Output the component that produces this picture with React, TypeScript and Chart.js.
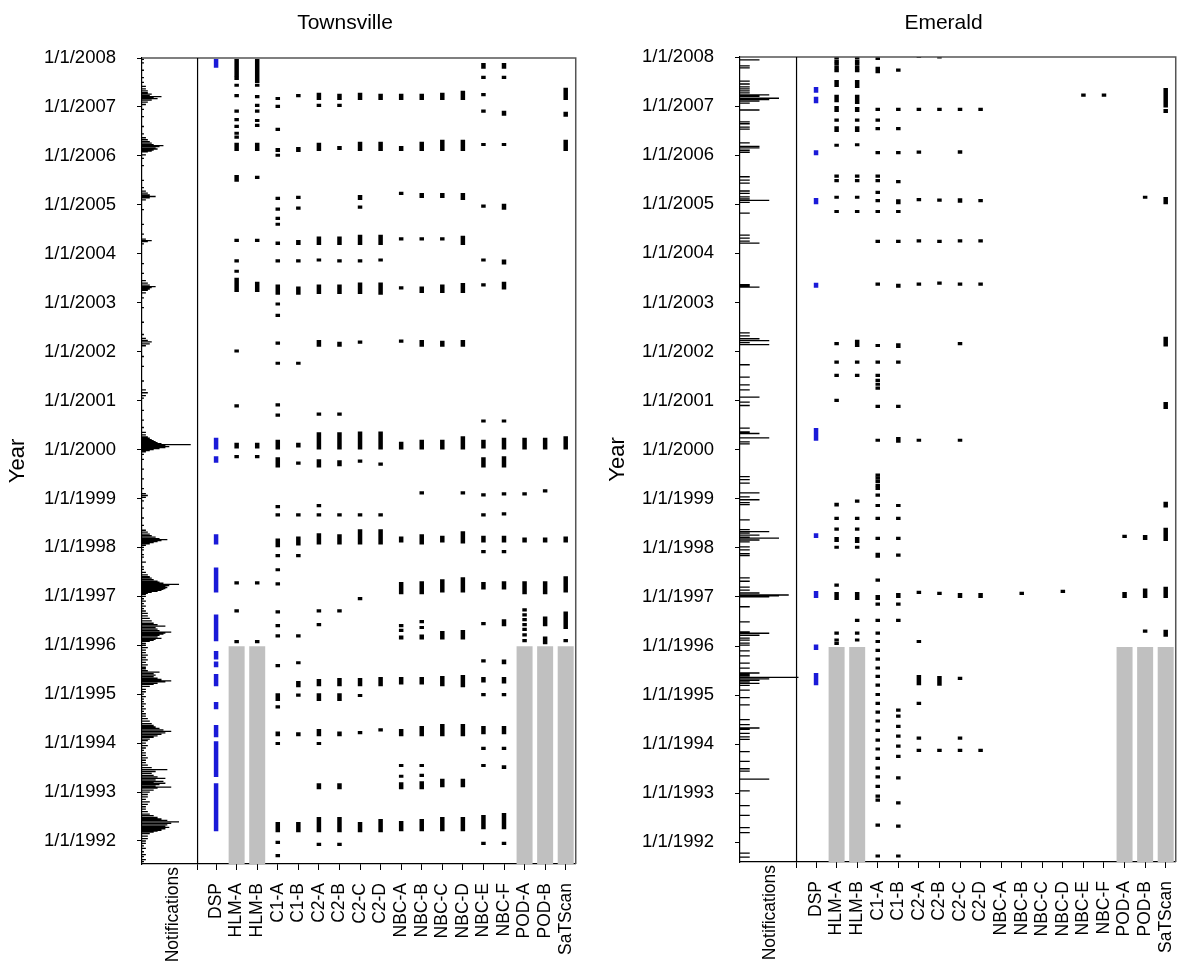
import React, { useEffect, useRef } from "react";
import { Chart, registerables } from "chart.js";
Chart.register(...registerables);

const FONT = "'Liberation Sans', Arial, Helvetica, sans-serif";

type Mark = number | [number, number];

// ---------------- categories / ticks ----------------
const COLUMNS = ["DSP", "HLM-A", "HLM-B", "C1-A", "C1-B", "C2-A", "C2-B", "C2-C", "C2-D", "NBC-A", "NBC-B", "NBC-C", "NBC-D", "NBC-E", "NBC-F", "POD-A", "POD-B", "SaTScan"];
const YEAR_TICKS = [1992, 1993, 1994, 1995, 1996, 1997, 1998, 1999, 2000, 2001, 2002, 2003, 2004, 2005, 2006, 2007, 2008];
const GREY_COLUMNS = ["HLM-A", "HLM-B", "POD-A", "POD-B", "SaTScan"];
const GREY_TOP = 1995.98;

// ---------------- Townsville notifications [date, cases] ----------------
const TV_NOTIFICATIONS: [number, number][] = [
  [1991.58, 1], [1991.62, 2], [1991.68, 1], [1991.72, 2], [1991.78, 1], [1991.85, 2], [1991.9, 1], [1991.95, 2], [1992.0, 2], [1992.05, 3], [1992.1, 3],
  [1992.15, 4], [1992.18, 6], [1992.2, 8], [1992.22, 10], [1992.25, 12], [1992.28, 14], [1992.3, 12], [1992.33, 13], [1992.36, 15], [1992.39, 19], [1992.42, 13], [1992.45, 10], [1992.48, 8], [1992.52, 6], [1992.55, 4], [1992.6, 3], [1992.65, 2], [1992.7, 2], [1992.75, 3], [1992.8, 4], [1992.85, 2], [1992.9, 3], [1992.95, 3],
  [1993.0, 4], [1993.04, 6], [1993.08, 8], [1993.1, 15], [1993.12, 7], [1993.15, 9], [1993.18, 12], [1993.2, 6], [1993.22, 11], [1993.25, 7], [1993.28, 12], [1993.31, 8], [1993.34, 6], [1993.38, 5], [1993.42, 7], [1993.46, 13], [1993.5, 5], [1993.55, 3], [1993.6, 2], [1993.65, 2], [1993.7, 3], [1993.75, 2], [1993.8, 2], [1993.85, 1], [1993.9, 2], [1993.95, 3],
  [1994.0, 2], [1994.05, 3], [1994.08, 4], [1994.12, 6], [1994.15, 8], [1994.18, 10], [1994.21, 12], [1994.24, 15], [1994.27, 11], [1994.3, 9], [1994.33, 7], [1994.36, 6], [1994.4, 5], [1994.45, 4], [1994.5, 3], [1994.55, 2], [1994.6, 2], [1994.65, 1], [1994.7, 2], [1994.75, 1], [1994.8, 2], [1994.85, 1], [1994.9, 1], [1994.95, 2],
  [1995.0, 1], [1995.05, 2], [1995.1, 2], [1995.16, 4], [1995.2, 6], [1995.22, 8], [1995.25, 12], [1995.27, 15], [1995.3, 10], [1995.33, 8], [1995.36, 6], [1995.39, 7], [1995.42, 6], [1995.45, 9], [1995.48, 3], [1995.52, 2], [1995.55, 2], [1995.6, 3], [1995.65, 2], [1995.7, 3], [1995.75, 2], [1995.8, 3], [1995.85, 2], [1995.9, 2], [1995.95, 3],
  [1996.0, 2], [1996.04, 2], [1996.08, 4], [1996.1, 6], [1996.12, 7], [1996.14, 10], [1996.17, 8], [1996.2, 9], [1996.23, 11], [1996.25, 12], [1996.27, 15], [1996.3, 9], [1996.33, 8], [1996.36, 7], [1996.39, 12], [1996.42, 8], [1996.45, 6], [1996.5, 5], [1996.55, 4], [1996.6, 3], [1996.65, 3], [1996.7, 2], [1996.75, 1], [1996.8, 2], [1996.85, 1], [1996.9, 2], [1996.95, 1],
  [1997.0, 2], [1997.04, 2], [1997.06, 3], [1997.08, 5], [1997.1, 8], [1997.12, 10], [1997.14, 11], [1997.16, 12], [1997.18, 13], [1997.2, 12], [1997.22, 14], [1997.245, 19], [1997.27, 11], [1997.29, 9], [1997.31, 8], [1997.34, 6], [1997.37, 5], [1997.4, 4], [1997.44, 3], [1997.49, 2], [1997.55, 1], [1997.6, 1], [1997.7, 2], [1997.8, 1], [1997.85, 1], [1997.95, 1],
  [1998.0, 1], [1998.04, 2], [1998.07, 4], [1998.1, 6], [1998.12, 8], [1998.14, 10], [1998.16, 13], [1998.18, 9], [1998.21, 7], [1998.24, 5], [1998.27, 4], [1998.31, 3], [1998.35, 2], [1998.45, 1], [1998.6, 1], [1998.8, 1], [1998.95, 1],
  [1999.02, 2], [1999.06, 3], [1999.1, 2], [1999.2, 1], [1999.4, 1], [1999.6, 1], [1999.8, 1], [1999.9, 1],
  [1999.95, 2], [1999.98, 4], [2000.0, 6], [2000.02, 9], [2000.04, 12], [2000.06, 14], [2000.08, 12], [2000.1, 25], [2000.12, 10], [2000.14, 8], [2000.16, 7], [2000.18, 6], [2000.2, 5], [2000.23, 4], [2000.26, 3], [2000.3, 2], [2000.35, 2], [2000.45, 1], [2000.6, 1], [2000.8, 1],
  [2001.05, 1], [2001.1, 2], [2001.16, 3], [2001.22, 2], [2001.4, 1], [2001.7, 1], [2001.9, 1],
  [2002.12, 2], [2002.16, 4], [2002.2, 5], [2002.23, 3], [2002.27, 2], [2002.35, 1], [2002.6, 1], [2002.9, 1],
  [2003.1, 1], [2003.2, 2], [2003.25, 3], [2003.28, 4], [2003.31, 5], [2003.33, 7], [2003.36, 4], [2003.4, 3], [2003.45, 2], [2003.6, 1], [2003.8, 1],
  [2004.2, 1], [2004.25, 3], [2004.27, 5], [2004.3, 2], [2004.4, 1], [2004.6, 1], [2004.9, 1],
  [2005.1, 2], [2005.14, 4], [2005.17, 7], [2005.2, 4], [2005.24, 3], [2005.28, 2], [2005.35, 1], [2005.5, 1], [2005.8, 1],
  [2005.95, 1], [2006.02, 2], [2006.08, 3], [2006.1, 5], [2006.12, 6], [2006.14, 8], [2006.16, 7], [2006.19, 9], [2006.21, 11], [2006.23, 6], [2006.26, 5], [2006.29, 4], [2006.33, 3], [2006.37, 2], [2006.45, 1], [2006.6, 1], [2006.8, 1],
  [2006.95, 1], [2007.05, 2], [2007.1, 3], [2007.14, 5], [2007.17, 8], [2007.19, 6], [2007.21, 10], [2007.23, 4], [2007.26, 5], [2007.29, 3], [2007.33, 3], [2007.37, 2], [2007.42, 2], [2007.5, 1], [2007.6, 1], [2007.75, 1], [2007.9, 1], [2007.97, 1],
];

// ---------------- Townsville signals (single week or [from, to]) ----------------
const TV_DSP: Mark[] = [[2007.8, 2007.98], [2000.0, 2000.24], [1999.73, 1999.86], [1998.06, 1998.27], [1997.08, 1997.59], [1996.08, 1996.63], [1995.71, 1995.88], [1995.55, 1995.67], [1995.16, 1995.41], [1994.69, 1994.84], [1994.12, 1994.37], [1993.31, 1994.04], [1992.2, 1993.18]];
const TV_HLM_A: Mark[] = [[2007.61, 2007.98], 2007.55, 2007.41, 2007.2, 2006.88, 2006.71, 2006.57, 2006.43, 2006.35, [2006.1, 2006.27], [2005.47, 2005.61], 2004.24, 2003.82, 2003.61, [2003.22, 2003.51], 2001.98, 2000.86, [2000.02, 2000.14], 1999.82, 1997.24, 1996.67, 1996.04];
const TV_HLM_B: Mark[] = [[2007.49, 2007.98], 2007.41, 2007.18, 2007.0, 2006.88, 2006.69, 2006.59, [2006.1, 2006.27], 2005.53, 2004.24, [2003.22, 2003.43], [2000.02, 2000.14], 1999.82, 1997.24, 1996.04];
const TV_C1_A: Mark[] = [[2007.14, 2007.2], 2006.98, 2006.51, [2006.08, 2006.16], 2005.98, 2005.1, 2004.88, 2004.69, 2004.57, [2004.18, 2004.25], 2003.82, [2003.16, 2003.37], 2002.94, 2002.71, 2002.14, 2001.73, 2000.88, 2000.67, [2000.0, 2000.2], [1999.63, 1999.84], 1998.8, 1998.63, [1998.0, 1998.18], 1997.8, 1997.51, 1997.22, 1996.65, 1996.37, 1996.16, 1995.55, [1994.86, 1995.02], 1994.71, [1994.14, 1994.24], 1993.96, [1992.18, 1992.39], 1991.94, 1991.67];
const TV_C1_B: Mark[] = [2007.2, [2006.08, 2006.18], 2005.12, 2004.9, [2004.18, 2004.28], 2003.82, [2003.16, 2003.33], 2001.73, [2000.04, 2000.14], 1999.69, 1998.63, [1998.04, 1998.22], 1997.8, 1996.16, 1995.61, [1995.14, 1995.27], 1994.95, [1994.14, 1994.22], [1992.18, 1992.39]];
const TV_C2_A: Mark[] = [[2007.14, 2007.29], 2007.0, [2006.1, 2006.27], [2004.18, 2004.35], 2003.84, [2003.18, 2003.37], [2002.1, 2002.24], 2000.69, [2000.0, 2000.35], [1999.63, 1999.8], 1998.82, 1998.63, [1998.06, 1998.29], 1996.67, 1996.39, [1995.16, 1995.31], [1994.86, 1995.02], [1994.14, 1994.29], 1993.96, [1993.06, 1993.18], [1992.18, 1992.49], 1991.9];
const TV_C2_B: Mark[] = [[2007.14, 2007.27], 2007.0, [2006.12, 2006.2], [2004.18, 2004.35], 2003.82, [2003.18, 2003.37], [2002.1, 2002.2], 2000.69, [2000.0, 2000.35], [1999.66, 1999.78], 1998.63, [1998.06, 1998.27], 1996.67, [1995.16, 1995.33], [1994.86, 1995.02], [1994.14, 1994.24], [1993.06, 1993.18], [1992.18, 1992.49], 1991.9];
const TV_C2_C: Mark[] = [[2007.14, 2007.29], [2006.1, 2006.29], [2005.1, 2005.2], 2004.92, [2004.18, 2004.39], 2003.82, [2003.18, 2003.41], 2002.16, [2000.0, 2000.37], 1999.73, 1998.63, [1998.06, 1998.37], 1996.92, [1995.16, 1995.33], 1994.94, [1994.18, 1994.24], [1992.18, 1992.39]];
const TV_C2_D: Mark[] = [[2007.14, 2007.27], [2006.1, 2006.29], [2004.18, 2004.39], 2003.84, [2003.16, 2003.41], [2000.0, 2000.37], 1999.67, 1998.63, [1998.06, 1998.37], [1995.16, 1995.35], 1994.24, [1992.18, 1992.45]];
const TV_NBC_A: Mark[] = [[2007.14, 2007.27], [2006.1, 2006.2], 2005.2, 2004.27, 2003.27, 2002.18, [2000.0, 2000.16], [1998.1, 1998.22], [1997.04, 1997.29], 1996.37, 1996.27, [1996.12, 1996.2], [1995.2, 1995.35], [1994.14, 1994.29], 1993.51, 1993.29, [1993.06, 1993.2], [1992.2, 1992.41]];
const TV_NBC_B: Mark[] = [[2007.14, 2007.27], [2006.1, 2006.29], [2005.14, 2005.24], 2004.27, [2003.2, 2003.33], [2002.1, 2002.24], [2000.0, 2000.2], 1999.08, [1998.06, 1998.27], [1997.04, 1997.31], 1996.45, 1996.33, [1996.12, 1996.22], [1995.2, 1995.35], [1994.14, 1994.35], 1993.51, 1993.31, [1993.06, 1993.22], [1992.2, 1992.45]];
const TV_NBC_C: Mark[] = [[2007.14, 2007.29], [2006.1, 2006.33], [2005.14, 2005.24], 2004.27, [2003.2, 2003.37], [2002.1, 2002.22], [2000.0, 2000.2], [1998.1, 1998.24], [1997.08, 1997.35], [1996.12, 1996.29], [1995.16, 1995.37], [1994.14, 1994.39], [1993.1, 1993.27], [1992.2, 1992.49]];
const TV_NBC_D: Mark[] = [[2007.14, 2007.33], [2006.1, 2006.33], [2005.1, 2005.24], [2004.18, 2004.37], [2003.2, 2003.4], [2002.1, 2002.24], [2000.0, 2000.27], 1999.08, [1998.08, 1998.33], [1997.08, 1997.39], [1996.12, 1996.31], [1995.14, 1995.39], [1994.14, 1994.39], [1993.1, 1993.27], [1992.2, 1992.49]];
const TV_NBC_E: Mark[] = [[2007.78, 2007.9], 2007.57, 2007.22, 2006.88, 2006.2, 2004.94, 2003.84, 2003.33, 2000.55, [2000.02, 2000.2], [1999.63, 1999.84], 1999.04, 1998.63, [1998.1, 1998.24], 1997.88, [1997.14, 1997.29], 1996.41, 1995.65, [1995.24, 1995.35], 1994.96, [1994.18, 1994.35], 1993.86, 1993.51, [1992.24, 1992.53], 1991.92];
const TV_NBC_F: Mark[] = [[2007.78, 2007.9], 2007.57, [2006.82, 2006.92], 2006.2, [2004.9, 2005.02], [2003.78, 2003.88], [2003.27, 2003.43], 2000.55, [2000.0, 2000.24], [1999.63, 1999.86], 1999.06, 1998.65, [1998.1, 1998.24], 1997.88, [1997.14, 1997.31], [1996.39, 1996.53], [1995.61, 1995.71], [1995.22, 1995.35], 1994.96, [1994.18, 1994.35], 1993.86, [1993.47, 1993.55], [1992.24, 1992.57], 1991.92];
const TV_POD_A: Mark[] = [[2000.0, 2000.24], 1999.06, [1998.1, 1998.2], [1997.04, 1997.31], 1996.69, 1996.59, 1996.49, 1996.39, 1996.29, 1996.18, 1996.06];
const TV_POD_B: Mark[] = [[2000.0, 2000.24], 1999.12, [1998.1, 1998.2], [1997.04, 1997.31], [1996.39, 1996.59], [1996.02, 1996.18]];
const TV_SATSCAN: Mark[] = [[2007.14, 2007.39], [2006.8, 2006.9], [2006.1, 2006.33], [2000.0, 2000.27], [1998.1, 1998.22], [1997.08, 1997.41], [1996.33, 1996.69], 1996.06];
const TV_MARKS: Mark[][] = [TV_DSP, TV_HLM_A, TV_HLM_B, TV_C1_A, TV_C1_B, TV_C2_A, TV_C2_B, TV_C2_C, TV_C2_D, TV_NBC_A, TV_NBC_B, TV_NBC_C, TV_NBC_D, TV_NBC_E, TV_NBC_F, TV_POD_A, TV_POD_B, TV_SATSCAN];

// ---------------- Emerald notifications [date, cases] ----------------
const EM_NOTIFICATIONS: [number, number][] = [
  [1991.7, 1], [1991.78, 1], [1992.2, 1], [1992.3, 1], [1992.55, 1], [1992.75, 1], [1993.05, 1], [1993.29, 3], [1993.45, 1], [1993.5, 1], [1993.65, 1], [1993.85, 1],
  [1994.1, 1], [1994.15, 1], [1994.22, 1], [1994.3, 1], [1994.33, 2], [1994.4, 1], [1994.5, 1], [1994.8, 1], [1994.95, 1],
  [1995.1, 1], [1995.2, 1], [1995.24, 2], [1995.27, 1], [1995.3, 2], [1995.33, 3], [1995.36, 6], [1995.39, 1], [1995.42, 1], [1995.45, 2], [1995.55, 1], [1995.65, 1], [1995.8, 1], [1995.9, 1],
  [1996.02, 1], [1996.06, 1], [1996.12, 1], [1996.16, 1], [1996.22, 2], [1996.26, 3], [1996.29, 1], [1996.49, 1], [1996.8, 1],
  [1997.0, 3], [1997.02, 4], [1997.04, 5], [1997.08, 2], [1997.14, 1], [1997.2, 1], [1997.32, 1], [1997.39, 1], [1997.84, 1], [1997.88, 1], [1997.96, 1],
  [1998.02, 1], [1998.12, 1], [1998.16, 2], [1998.2, 4], [1998.22, 1], [1998.26, 2], [1998.3, 1], [1998.33, 3], [1998.37, 1], [1998.57, 1], [1998.88, 1], [1998.92, 1], [1998.98, 2],
  [1999.04, 1], [1999.12, 2], [1999.32, 1], [1999.39, 1], [1999.45, 1],
  [2000.12, 1], [2000.16, 1], [2000.24, 3], [2000.33, 2], [2000.36, 1], [2000.44, 1], [2000.9, 1], [2000.97, 1],
  [2001.07, 2], [2001.22, 1], [2001.32, 1], [2001.48, 1], [2001.73, 1],
  [2002.14, 3], [2002.18, 1], [2002.22, 3], [2002.26, 2], [2002.32, 1], [2002.38, 1],
  [2003.31, 2], [2003.33, 1], [2003.36, 1], [2004.21, 2], [2004.25, 1], [2004.31, 1], [2004.37, 1], [2004.82, 1],
  [2005.04, 1], [2005.08, 3], [2005.11, 1], [2005.15, 1], [2005.22, 1], [2005.27, 1], [2005.43, 1], [2005.49, 1], [2005.56, 1],
  [2006.06, 1], [2006.1, 1], [2006.15, 2], [2006.18, 2], [2006.25, 1], [2006.53, 1], [2006.57, 1], [2006.64, 1], [2006.68, 1], [2006.92, 2],
  [2007.06, 1], [2007.1, 2], [2007.13, 3], [2007.16, 4], [2007.2, 2], [2007.23, 3], [2007.27, 1], [2007.31, 1], [2007.35, 1], [2007.39, 1], [2007.45, 1], [2007.51, 1], [2007.78, 1], [2007.82, 1], [2007.94, 2],
];

// ---------------- Emerald signals ----------------
const EM_DSP: Mark[] = [[2007.27, 2007.39], [2007.06, 2007.19], [2006.0, 2006.1], [2005.0, 2005.13], [2003.3, 2003.4], [2000.18, 2000.44], [1998.2, 1998.3], [1996.98, 1997.12], [1995.92, 1996.03], [1995.2, 1995.45]];
const EM_HLM_A: Mark[] = [2007.95, 2007.88, 2007.82, 2007.75, 2007.69, [2007.39, 2007.53], [2007.08, 2007.23], [2006.88, 2007.0], 2006.68, [2006.47, 2006.59], 2006.17, 2005.54, 2005.45, 2005.11, 2004.82, 2002.13, 2001.75, 2001.48, 2000.97, [1998.84, 1998.92], 1998.57, 1998.35, [1998.12, 1998.22], 1997.98, 1997.21, [1996.94, 1997.1], 1996.23, 1996.09, 1996.02];
const EM_HLM_B: Mark[] = [2007.95, 2007.88, 2007.82, 2007.75, 2007.69, [2007.37, 2007.53], [2007.04, 2007.23], [2006.88, 2006.98], 2006.68, [2006.47, 2006.59], 2006.18, 2005.54, 2005.45, 2005.11, 2004.82, [2002.09, 2002.24], 2001.75, 2001.48, 1998.92, 1998.57, 1998.35, [1998.1, 1998.22], 1997.98, [1996.94, 1997.1], 1996.49, 1996.23, 1996.09];
const EM_C1_A: Mark[] = [[2007.94, 2008.0], [2007.67, 2007.8], 2006.9, 2006.68, 2006.51, 2006.02, 2005.54, 2005.45, 2005.21, 2005.04, 2004.82, 2004.21, 2003.34, [2002.09, 2002.15], 2001.75, 2001.48, 2001.38, 2001.3, 2001.22, 2000.85, 2000.16, 1999.45, 1999.39, 1999.32, 1999.24, 1999.18, 1999.04, 1998.83, 1998.57, 1998.16, [1997.8, 1997.9], 1997.31, [1996.94, 1997.04], 1996.82, 1996.49, 1996.23, 1996.06, 1995.88, 1995.7, 1995.52, 1995.35, 1995.17, 1994.98, 1994.8, 1994.62, 1994.44, 1994.25, 1994.05, 1993.87, 1993.68, 1993.48, 1993.3, 1993.11, 1992.91, 1992.83, 1992.32, 1991.69];
const EM_C1_B: Mark[] = [2007.7, 2006.9, 2006.51, 2006.02, 2005.43, [2005.0, 2005.1], 2004.82, 2004.21, [2003.3, 2003.38], [2002.07, 2002.17], 2001.75, 2000.85, [2000.14, 2000.26], 1998.83, 1998.57, 1998.16, 1997.82, [1996.98, 1997.08], 1996.82, 1996.49, 1994.66, 1994.54, 1994.33, 1994.13, 1993.93, 1993.72, 1993.28, 1992.77, 1992.3, 1991.69];
const EM_C2_A: Mark[] = [2007.98, 2006.9, 2006.03, 2005.06, 2004.22, [2003.34, 2003.38], 2000.16, 1997.06, 1996.06, [1995.2, 1995.41], 1994.8, 1994.09, 1993.84];
const EM_C2_B: Mark[] = [2007.97, 2006.9, 2005.05, 2004.21, 2003.36, 1997.04, [1995.19, 1995.39], 1993.84];
const EM_C2_C: Mark[] = [2006.9, [2006.03, 2006.1], [2005.03, 2005.12], 2004.22, [2003.34, 2003.38], 2002.13, 2000.16, [1996.98, 1997.08], 1995.31, 1994.09, 1993.84];
const EM_C2_D: Mark[] = [2006.9, [2005.04, 2005.1], 2004.22, [2003.34, 2003.38], [1996.98, 1997.08], 1993.84];
const EM_NBC_A: Mark[] = [];
const EM_NBC_B: Mark[] = [1997.04];
const EM_NBC_C: Mark[] = [];
const EM_NBC_D: Mark[] = [1997.08];
const EM_NBC_E: Mark[] = [2007.19];
const EM_NBC_F: Mark[] = [2007.19];
const EM_POD_A: Mark[] = [1998.2, [1996.98, 1997.1]];
const EM_POD_B: Mark[] = [2005.11, [1998.16, 1998.26], [1996.98, 1997.17], 1996.27];
const EM_SATSCAN: Mark[] = [[2006.97, 2007.37], [2006.86, 2006.94], [2005.0, 2005.15], [2002.1, 2002.3], [2000.83, 2000.97], [1998.82, 1998.94], [1998.14, 1998.41], [1996.98, 1997.21], [1996.19, 1996.33]];
const EM_MARKS: Mark[][] = [EM_DSP, EM_HLM_A, EM_HLM_B, EM_C1_A, EM_C1_B, EM_C2_A, EM_C2_B, EM_C2_C, EM_C2_D, EM_NBC_A, EM_NBC_B, EM_NBC_C, EM_NBC_D, EM_NBC_E, EM_NBC_F, EM_POD_A, EM_POD_B, EM_SATSCAN];

// ---------------- panel layout ----------------
type Panel = {
  title: string;
  titleX: number;
  notifications: [number, number][];
  marks: Mark[][];
  yMin: number;
  yMax: number;
  xMin: number;
  xMax: number;
  sepX: number;
  unitsPerCase: number;
  notifLabelX: number;
  top: number;
  right: number;
  yAxisWidth: number;
  xAxisHeight: number;
};

const TV_PANEL: Panel = {
  title: "Townsville", titleX: 345, notifications: TV_NOTIFICATIONS, marks: TV_MARKS,
  yMin: 1991.53, yMax: 2008, xMin: -2.602, xMax: 18.488, sepX: 0.1, unitsPerCase: 0.0948,
  notifLabelX: 173.5, top: 58, right: 13, yAxisWidth: 142, xAxisHeight: 110,
};
const EM_PANEL: Panel = {
  title: "Emerald", titleX: 343.5, notifications: EM_NOTIFICATIONS, marks: EM_MARKS,
  yMin: 1991.6, yMax: 2008, xMin: -2.697, xMax: 18.488, sepX: 0.052, unitsPerCase: 0.474,
  notifLabelX: 170, top: 57, right: 13, yAxisWidth: 140, xAxisHeight: 112,
};

function makeConfig(p: Panel): any {
  const notifPts: any[] = [];
  p.notifications.forEach(([t, c]) => {
    notifPts.push({ x: p.xMin, y: t }, { x: p.xMin + c * p.unitsPerCase, y: t }, { x: p.xMin, y: null });
  });
  const black: any[] = [];
  const blue: any[] = [];
  const grey: any[] = [];
  COLUMNS.forEach((name, i) => {
    const col = i + 1;
    p.marks[i].forEach((m) => {
      const r = Array.isArray(m) ? [m[0], m[1]] : [m, m];
      (name === "DSP" ? blue : black).push({ x: col, y: r });
    });
    if (GREY_COLUMNS.includes(name)) grey.push({ x: col, y: [p.yMin, GREY_TOP] });
  });
  const xTicks = [p.sepX, ...COLUMNS.map((_, i) => i + 1)];
  const barCommon = { grouped: false, categoryPercentage: 1, barPercentage: 1, borderWidth: 0, inflateAmount: 0 };

  const frame = {
    id: "frame" + p.title,
    afterDraw(chart: any) {
      const { ctx, chartArea: a, scales } = chart;
      ctx.save();
      ctx.strokeStyle = "#555";
      ctx.lineWidth = 1.5;
      ctx.beginPath();
      ctx.moveTo(a.left, a.top);
      ctx.lineTo(a.right, a.top);
      ctx.lineTo(a.right, a.bottom);
      ctx.stroke();
      const sx = scales.x.getPixelForValue(p.sepX);
      ctx.strokeStyle = "#000";
      ctx.lineWidth = 1.2;
      ctx.beginPath();
      ctx.moveTo(sx, a.top);
      ctx.lineTo(sx, a.bottom);
      ctx.stroke();
      ctx.fillStyle = "#000";
      ctx.font = `17.5px ${FONT}`;
      ctx.translate(p.notifLabelX, a.bottom + 3);
      ctx.rotate(-Math.PI / 2);
      ctx.textAlign = "right";
      ctx.textBaseline = "middle";
      ctx.fillText("Notifications", 0, 0);
      ctx.restore();
      ctx.save();
      ctx.fillStyle = "#000";
      ctx.font = `21px ${FONT}`;
      ctx.textAlign = "center";
      ctx.textBaseline = "alphabetic";
      ctx.fillText(p.title, p.titleX, 29);
      ctx.restore();
    },
  };

  return {
    type: "bar",
    data: {
      datasets: [
        { type: "line", data: notifPts, borderColor: "#000", borderWidth: 1.3, pointRadius: 0, fill: false, tension: 0, spanGaps: false, order: 2 },
        { type: "bar", data: grey, backgroundColor: "#c0c0c0", maxBarThickness: 16, order: 3, ...barCommon },
        { type: "bar", data: black, backgroundColor: "#000", maxBarThickness: 4.5, minBarLength: 3.2, order: 1, ...barCommon },
        { type: "bar", data: blue, backgroundColor: "#1a1ad8", maxBarThickness: 4.5, minBarLength: 3.2, order: 0, ...barCommon },
      ],
    },
    options: {
      responsive: false,
      animation: false,
      events: [],
      layout: { padding: { top: p.top, right: p.right, left: 0, bottom: 0 } },
      plugins: { legend: { display: false }, tooltip: { enabled: false }, title: { display: false } },
      scales: {
        x: {
          type: "linear",
          min: p.xMin,
          max: p.xMax,
          offset: false,
          afterBuildTicks: (s: any) => { s.ticks = xTicks.map((v) => ({ value: v })); },
          afterFit: (s: any) => { s.height = p.xAxisHeight; },
          grid: { offset: false, drawOnChartArea: false, drawTicks: true, tickLength: 6, color: "#000", tickColor: "#000", lineWidth: 1 },
          border: { display: true, color: "#000", width: 1.2 },
          ticks: {
            autoSkip: false, minRotation: 90, maxRotation: 90, padding: 13, color: "#000",
            font: { family: FONT, size: 17.5 },
            callback: (_v: any, i: number) => (i === 0 ? "" : COLUMNS[i - 1]),
          },
        },
        y: {
          type: "linear",
          position: "left",
          min: p.yMin,
          max: p.yMax,
          afterBuildTicks: (s: any) => { s.ticks = YEAR_TICKS.map((v) => ({ value: v })); },
          afterFit: (s: any) => { s.width = p.yAxisWidth; },
          grid: { drawOnChartArea: false, drawTicks: true, tickLength: 5, color: "#000", tickColor: "#000" },
          border: { display: true, color: "#000", width: 1.2 },
          ticks: {
            autoSkip: false, padding: 21, color: "#000",
            font: { family: FONT, size: 18.5 },
            callback: (v: any) => "1/1/" + v,
          },
          title: { display: true, text: "Year", color: "#000", font: { family: FONT, size: 22 }, padding: { top: 5, bottom: 0 } },
        },
      },
    },
    plugins: [frame],
  };
}

function PanelChart({ p, left }: { p: Panel; left: number }) {
  const ref = useRef<HTMLCanvasElement>(null);
  useEffect(() => {
    if (!ref.current) return;
    const chart = new Chart(ref.current, makeConfig(p));
    return () => chart.destroy();
  }, [p]);
  return (
    <canvas
      ref={ref}
      width={600}
      height={974}
      style={{ position: "absolute", left, top: 0, width: 600, height: 974, display: "block" }}
    />
  );
}

export default function App() {
  return (
    <div style={{ position: "absolute", left: 0, top: 0, width: 1200, height: 974, background: "#fff", overflow: "hidden" }}>
      <PanelChart p={TV_PANEL} left={0} />
      <PanelChart p={EM_PANEL} left={600} />
    </div>
  );
}
